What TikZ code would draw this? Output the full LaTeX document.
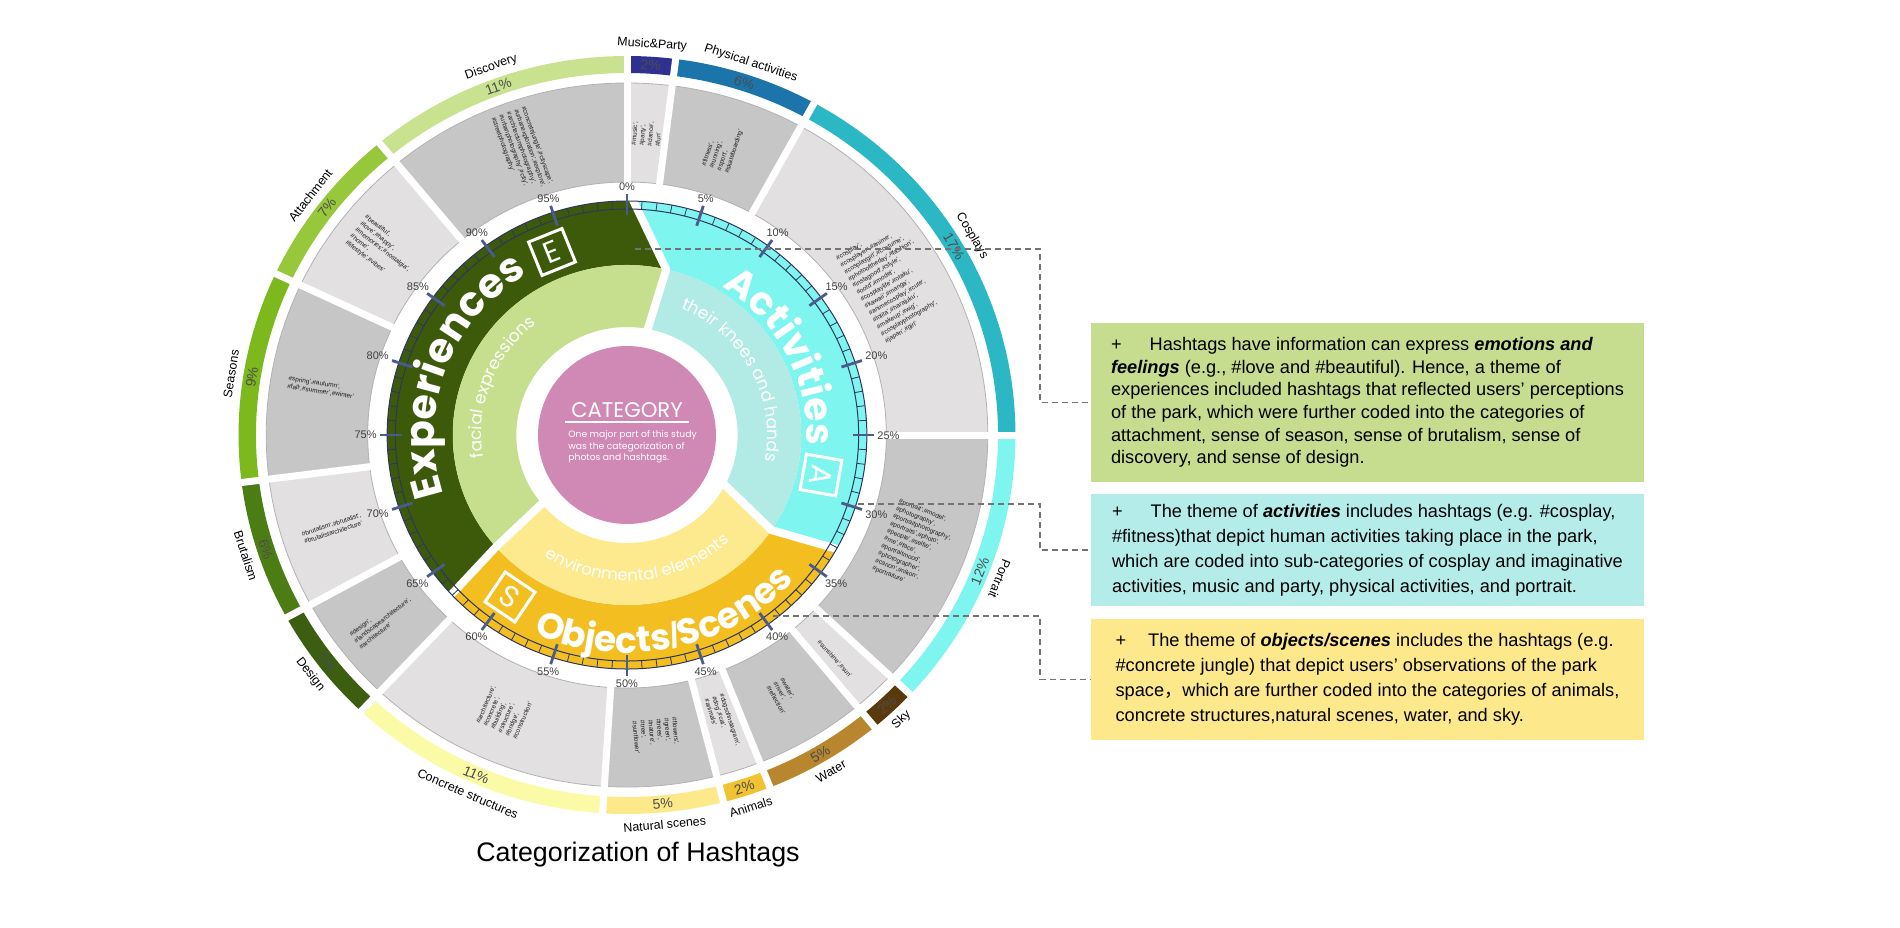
\documentclass[tikz,border=0pt]{standalone}
\usepackage{fontspec}
\setmainfont{Liberation Sans}
\newfontfamily\geofont{Poppins}
\newfontfamily\cjk{Noto Sans CJK SC}
\usetikzlibrary{decorations.text}

\definecolor{cMusic}{HTML}{2E3192}
\definecolor{cPhys}{HTML}{1B75AA}
\definecolor{cCos}{HTML}{2BB7C4}
\definecolor{cPort}{HTML}{7FF5F0}
\definecolor{cSky}{HTML}{5A3A0C}
\definecolor{cWater}{HTML}{B8862E}
\definecolor{cAnim}{HTML}{F1C232}
\definecolor{cNat}{HTML}{FDE98A}
\definecolor{cConc}{HTML}{FBFAA6}
\definecolor{cDesign}{HTML}{3B5E10}
\definecolor{cBrut}{HTML}{4C7D14}
\definecolor{cSeas}{HTML}{7DB81D}
\definecolor{cAtt}{HTML}{97C83C}
\definecolor{cDisc}{HTML}{C8E28F}
\definecolor{cGrayD}{HTML}{C6C6C6}
\definecolor{cGrayL}{HTML}{E2E0E1}
\definecolor{cExpD}{HTML}{3D5A0A}
\definecolor{cExpL}{HTML}{C6DF8E}
\definecolor{cActD}{HTML}{7EF5EE}
\definecolor{cActL}{HTML}{B2EBE6}
\definecolor{cObjD}{HTML}{F3BE1F}
\definecolor{cObjL}{HTML}{FDE98E}
\definecolor{cPink}{HTML}{D089B4}
\definecolor{cTick}{HTML}{2D3560}
\definecolor{cTickMaj}{HTML}{4B5B8E}
\definecolor{cBoxE}{HTML}{C6DC8F}
\definecolor{cBoxA}{HTML}{B3ECE9}
\definecolor{cBoxO}{HTML}{FDE88C}

% annular patch: style, r in, r out, outer from/to, inner from/to
\newcommand{\ringpatch}[7]{%
  \fill[#1] (#4:#3) arc[start angle=#4, end angle=#5, radius=#3]
    -- (#7:#2) arc[start angle=#7, end angle=#6, radius=#2] -- cycle;}

\begin{document}
\begin{tikzpicture}
[
  x=0.5pt, y=0.5pt,
  ringname/.style={font=\fontsize{6.2}{6.2}\selectfont, inner sep=0pt},
  ringpct/.style={font=\fontsize{7}{7}\selectfont, text=black!70, inner sep=0pt},
  ticklab/.style={font=\fontsize{5.5}{5.5}\selectfont, text=black!75, inner sep=1pt},
  tickline/.style={draw=cTick, line width=0.5pt},
  tickmin/.style={draw=cTick, line width=0.4pt},
  tickmaj/.style={draw=cTickMaj, line width=1.4pt},
  grayrim/.style={draw=black!30, line width=0.4pt},
  gapline/.style={draw=white, line width=3.5pt},
  catgap/.style={draw=white, line width=4pt, line join=round},
  tagtext/.style={font=\fontsize{3.2}{4}\selectfont, text=black!90, align=left, inner sep=0pt},
  letterbox/.style={draw=white, line width=1.5pt, minimum size=18pt, inner sep=0pt,
    font=\geofont\fontsize{15}{15}\selectfont, text=white},
  infobox/.style={minimum width=276.5pt, align=left, inner sep=0pt,
    font=\fontsize{9.1}{11.3}\selectfont},
  leader/.style={draw=black!55, line width=0.6pt, dash pattern=on 3pt off 2pt},
]
\useasboundingbox (0,0) rectangle (1900,-927);

\begin{scope}[shift={(627,-435)}, xscale=1.025]
% outer ring of sub-categories
\foreach \pa/\pb/\col/\nm/\pc/\fn/\fp in {
  0/2/cMusic/Music\&Party/2/0/0,
  2/8/cPhys/Physical activities/6/0/0,
  8/25/cCos/Cosplays/17/0/0,
  25/37/cPort/Portrait/12/0/1,
  37/39/cSky/Sky/2/1/1,
  39/44/cWater/Water/5/1/1,
  44/46/cAnim/Animals/2/1/1,
  46/51/cNat/Natural scenes/5/1/1,
  51/62/cConc/Concrete structures/11/1/1,
  62/67/cDesign/Design/5/1/1,
  67/73/cBrut/Brutalism/6/1/1,
  73/82/cSeas/Seasons/9/0/0,
  82/89/cAtt/Attachment/7/0/0,
  89/100/cDisc/Discovery/11/0/0} {
  \pgfmathsetmacro{\ta}{90-3.6*\pa}
  \pgfmathsetmacro{\tb}{90-3.6*\pb}
  \pgfmathsetmacro{\tm}{90-1.8*(\pa+\pb)}
  \pgfmathsetmacro{\rn}{\tm-90+180*\fn}
  \pgfmathsetmacro{\rp}{\tm-90+180*\fp}
  \ringpatch{fill=\col}{362}{379}{\ta}{\tb}{\ta}{\tb}
  \node[ringname, rotate=\rn] (name\pa) at (\tm:391) {\nm};
  \node[ringpct, rotate=\rp] (pct\pa) at (\tm:370.5) {\pc\%};
}

% gray hashtag sectors
\foreach \pa/\pb/\col in {0/2/cGrayL, 2/8/cGrayD, 8/25/cGrayL, 25/37/cGrayD,
  37/39/cGrayL, 39/44/cGrayD, 44/46/cGrayL, 46/51/cGrayD, 51/62/cGrayL,
  62/67/cGrayD, 67/73/cGrayL, 73/82/cGrayD, 82/89/cGrayL, 89/100/cGrayD} {
  \pgfmathsetmacro{\ta}{90-3.6*\pa}
  \pgfmathsetmacro{\tb}{90-3.6*\pb}
  \ringpatch{fill=\col}{253}{352}{\ta}{\tb}{\ta}{\tb}
}
\draw[grayrim] (0,0) circle[radius=253];
\draw[grayrim] (0,0) circle[radius=352];
\foreach \p in {0,2,8,25,37,39,44,46,51,62,67,73,82,89} {
  \pgfmathsetmacro{\ta}{90-3.6*\p}
  \draw[gapline] (\ta:249) -- (\ta:384);
}

\foreach \pm/\txt [count=\k] in {
  94.5/{\#concretejungle',\#cityscape',\\ \#urbanexploration',\#explore',\\ \#architecturephotography',\\ \#urbanphotography',\#city',\\ \#streetphotography'},
  1/{\#music',\\ \#party',\\ \#dance',\\ \#fun'},
  5/{\#fitness',\\ \#running',\\ \#sport',\\ \#skateboarding'},
  16.5/{\#cosplay',\\ \#cosplayer',\#anime',\\ \#cosplaygirl',\#costume',\\ \#photooftheday',\#fashion',\\ \#instagood',\#style',\\ \#ootd',\#model',\\ \#cosplaylife',\#otaku',\\ \#kawaii',\#manga',\\ \#animecosplay',\#cute',\\ \#lolita',\#harajuku',\\ \#makeup',\#wig',\\ \#cosplayphotography',\\ \#japan',\#girl'},
  31/{\#portrait',\#model',\\ \#photography',\\ \#portraitphotography',\\ \#portraits',\#photo',\\ \#people',\#selfie',\\ \#me',\#face',\\ \#portraitmood',\\ \#photographer',\\ \#canon',\#nikon',\\ \#portraiture'},
  38.3/{\#sunshine',\#sun'},
  41.6/{\#water',\\ \#river',\\ \#reflection'},
  45/{\#dogsofinstagram',\\ \#dog',\#cat',\\ \#animals'},
  48.5/{\#flowers',\\ \#green',\\ \#trees',\\ \#nature',\\ \#tree',\\ \#sunflower'},
  56.5/{\#architecture',\\ \#concrete',\\ \#building',\\ \#structure',\\ \#bridge',\\ \#construction'},
  64.5/{\#design',\\ \#landscapearchitecture',\\ \#architecture'},
  70/{\#brutalism',\#brutalist',\\ \#brutalistarchitecture'},
  77.5/{\#spring',\#autumn',\\ \#fall',\#summer',\#winter'},
  85.5/{\#beautiful',\\ \#love',\#happy',\\ \#memories',\#nostalgia',\\ \#home',\\ \#lifestyle',\#vibes'}} {
  \pgfmathsetmacro{\tm}{90-3.6*\pm}
  \pgfmathsetmacro{\tr}{(cos(\tm)<0) ? (\tm+180) : (\tm)}
  \node[tagtext, rotate=\tr] (tag\k) at (\tm:302) {\txt};
}

% three themes
\ringpatch{fill=cExpD}{170}{234}{88.7}{223}{77}{221.2}
\ringpatch{fill=cExpL}{108}{170}{77}{221.2}{79.4}{219.4}
\ringpatch{fill=cActD}{170}{234}{-29}{88.7}{-34}{77}
\ringpatch{fill=cActL}{108}{170}{-34}{77}{-27}{79.4}
\ringpatch{fill=cObjD}{170}{234}{-137}{-29}{-138.8}{-34}
\ringpatch{fill=cObjL}{108}{170}{-138.8}{-34}{-140.6}{-27}
\draw[catgap] (88.7:236) -- (77:170) -- (79.4:104);
\draw[catgap] (-29:236) -- (-34:170) -- (-27:104);
\draw[catgap] (-137:236) -- (-138.8:170) -- (-140.6:104);

% percentage scale
\draw[tickline] (0,0) circle[radius=226];
\draw[tickline] (0,0) circle[radius=234];
\foreach \i in {0,...,99} {
  \pgfmathsetmacro{\ta}{90-3.6*\i}
  \draw[tickmin] (\ta:226) -- (\ta:234);
}
\foreach \i in {0,5,...,95} {
  \pgfmathsetmacro{\ta}{90-3.6*\i}
  \pgfmathtruncatemacro{\an}{mod(630-3.6*\i,360)}
  \draw[tickmaj] (\ta:220) -- (\ta:241);
  \node[ticklab, anchor=\an] (tick\i) at (\ta:242) {\i\%};
}

% theme words along the rings
\path[decorate, decoration={text along path, text align=center, text color=white,
  text={|\geofont\bfseries\fontsize{20.5}{20.5}\selectfont|Experiences}}]
  (240:188) arc[start angle=240, end angle=80, radius=188];
\path[decorate, decoration={text along path, text align=center, text color=white,
  text={|\geofont\bfseries\fontsize{19.5}{19.5}\selectfont|Activities}}]
  (97:175) arc[start angle=97, end angle=-43, radius=175];
\path[decorate, decoration={text along path, text align=center, text color=white,
  text={|\geofont\bfseries\fontsize{18}{18}\selectfont|Objects|\rmfamily\bfseries\fontsize{18}{18}\selectfont|/|\geofont\bfseries\fontsize{18}{18}\selectfont|Scenes}}]
  (-158:218) arc[start angle=-158, end angle=2, radius=218];
\path[decorate, decoration={text along path, text align=center, text color=white,
  text={|\geofont\fontsize{8.5}{8.5}\selectfont|facial expressions}}]
  (229:142) arc[start angle=229, end angle=89, radius=142];
\path[decorate, decoration={text along path, text align=center, text color=white,
  text={|\geofont\fontsize{8.5}{8.5}\selectfont|their knees and hands}}]
  (103:137) arc[start angle=103, end angle=-47, radius=137];
\path[decorate, decoration={text along path, text align=center, text color=white,
  text={|\geofont\fontsize{8.2}{8.2}\selectfont|environmental elements}}]
  (-165:146) arc[start angle=-165, end angle=-5, radius=146];
\end{scope}

\node[letterbox, rotate=22] (expbox) at (552,-252) {E};
\node[letterbox, rotate=-100] (actbox) at (821,-475) {A};
\node[letterbox, rotate=-34] (objbox) at (510,-597) {S};

\node[circle, fill=cPink, minimum size=89pt, inner sep=0pt] (core) at (627,-435) {};
\node[font=\geofont\fontsize{10.6}{10.6}\selectfont, text=white, inner sep=0pt] (cattitle) at (627,-410) {CATEGORY};
\draw[white, line width=1pt] ([shift={(-3pt,-2pt)}]cattitle.south west) -- ([shift={(3pt,-2pt)}]cattitle.south east);
\node[font=\geofont\fontsize{4.6}{5.8}\selectfont, text=white, align=left, anchor=north west, inner sep=0pt] (catnote) at (568,-430) {One major part of this study\\was the categorization of\\photos and hashtags.};

% notes on the right
\node[infobox, fill=cBoxE, minimum height=79.5pt] (boxE) at (1367.5,-402.5) {+\hspace{14pt}Hashtags have information can express \textbf{\textit{emotions and}}\\
\textbf{\textit{feelings}} (e.g., \#love and \#beautiful). Hence, a theme of\\
experiences included hashtags that reflected users’ perceptions\\
of the park, which were further coded into the categories of\\
attachment, sense of season, sense of brutalism, sense of\\
discovery, and sense of design.};
\node[infobox, fill=cBoxA, minimum height=56pt, font=\fontsize{9.1}{12.5}\selectfont] (boxA) at (1367.5,-550) {+\hspace{14pt}The theme of \textbf{\textit{activities}} includes hashtags (e.g. \#cosplay,\\
\#fitness)that depict human activities taking place in the park,\\
which are coded into sub-categories of cosplay and imaginative\\
activities, music and party, physical activities, and portrait.};
\node[infobox, fill=cBoxO, minimum height=60.5pt, font=\fontsize{9.1}{12.5}\selectfont] (boxO) at (1367.5,-679.5) {+\hspace{11pt}The theme of \textbf{\textit{objects/scenes}} includes the hashtags (e.g.\\
\#concrete jungle) that depict users’ observations of the park\\
space{\cjk ，}which are further coded into the categories of animals,\\
concrete structures,natural scenes, water, and sky.};

\coordinate (srcE) at (635,-249);
\coordinate (srcA) at (858,-504);
\coordinate (srcO) at (773,-616);
\coordinate (jog) at (1040,0);
\draw[leader] (srcE) -- (srcE -| jog) |- (boxE.west);
\draw[leader] (srcA) -- (srcA -| jog) |- (boxA.west);
\draw[leader] (srcO) -- (srcO -| jog) |- (boxO.west);

\node[font=\fontsize{13.4}{16}\selectfont] (title) at (638,-855) {Categorization of Hashtags};
\end{tikzpicture}
\end{document}
